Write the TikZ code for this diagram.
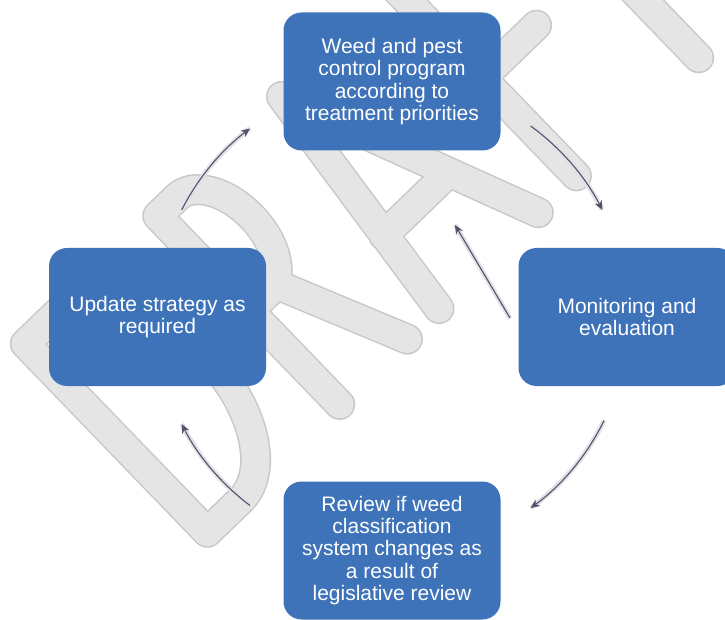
\documentclass[tikz,border=0pt]{standalone}
\usepackage{fontspec}
\setmainfont{Liberation Sans}
\usetikzlibrary{arrows.meta}
\definecolor{boxblue}{RGB}{62,115,185}
\definecolor{arrowc}{RGB}{80,82,105}
\definecolor{wmgray}{RGB}{229,229,229}
\definecolor{wmedge}{RGB}{200,200,200}
\definecolor{glowc}{RGB}{225,225,230}
\begin{document}
\begin{tikzpicture}[x=1pt,y=1pt,
  stepbox/.style={fill=boxblue, rounded corners=18pt, minimum width=217pt,
    minimum height=138pt, text=white, align=center,
    font=\fontsize{21}{22.3}\selectfont, inner sep=0pt},
  cyc/.style={draw=arrowc, line width=1.1pt,
    -{Stealth[length=9pt,width=8pt]},
    preaction={draw=glowc, line width=5pt, arrows=-}},
  wmline/.style={line cap=round, line join=round}]
\useasboundingbox (0,0) rectangle (725,619);
\clip (0,0) rectangle (725,619);
\fill[white] (0,0) rectangle (725,619);
% watermark "DRAFT" drawn as stroked letters
\begin{scope}[shift={(207,67)}, rotate=44]
  \path[save path=\wmletters]
    % D
    (14,14) -- (14,276) -- (60,276)
      arc[start angle=90, end angle=-90, x radius=76, y radius=131] -- cycle
    % R
    (198,14) -- (198,276) -- (225,276)
      arc[start angle=90, end angle=-90, x radius=40, y radius=66] -- (198,144)
    (236,144) -- (292,14)
    % A
    (336,14) -- (370,276) -- (474,14)
    (347,105) -- (437,105)
    % F
    (527,14) -- (527,276) -- (620,276)
    (527,150) -- (603,150)
    % T
    (697,14) -- (697,276)
    (640,276) -- (760,276);
\end{scope}
\draw[wmline, draw=wmedge, line width=31pt, use path=\wmletters];
\draw[wmline, draw=wmgray, line width=28pt, use path=\wmletters];
% boxes
\coordinate (c) at (392,302);
\node[stepbox] (weed) at (392,537.5) {Weed and pest\\control program\\according to\\treatment priorities};
\node[stepbox] (update) at (157.5,302) {Update strategy as\\required};
\node[stepbox] (monitor) at (627,302) {Monitoring and\\evaluation};
\node[stepbox] (review) at (392,68.5) {Review if weed\\classification\\system changes as\\a result of\\legislative review};
% arrow ends
\path (c) ++(153:236) coordinate (a1);
\path (c) ++(54:236) coordinate (a2);
\path (c) ++(-26:236) coordinate (a4);
\path (c) ++(233:236) coordinate (a5);
\coordinate (m1) at (510,301);
\coordinate (m2) at (455,394);
% arrows
\draw[cyc] (a1) arc[start angle=153, end angle=127, radius=236];
\draw[cyc] (a2) arc[start angle=54, end angle=27, radius=236];
\draw[cyc] (a4) arc[start angle=-26, end angle=-54, radius=236];
\draw[cyc] (a5) arc[start angle=233, end angle=207, radius=236];
\draw[cyc] (m1) -- (m2);
\end{tikzpicture}
\end{document}
